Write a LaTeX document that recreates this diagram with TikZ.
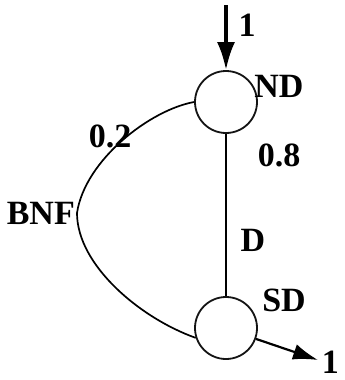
\documentclass[tikz,border=0pt]{standalone}
\usepackage{fontspec}
\setmainfont{Liberation Serif}
\usetikzlibrary{arrows.meta,positioning}
\definecolor{InkBlack}{RGB}{20,20,20}

\begin{document}
\begin{tikzpicture}[x=1pt,y=-1pt,>=Latex,
    state/.style={circle,draw=InkBlack,line width=1.8pt,minimum size=62pt,inner sep=0pt},
    lbl/.style={font=\fontsize{34}{36}\selectfont\bfseries,inner sep=0pt}]
      \useasboundingbox (0,0) rectangle (345,380);
      \node[state] (nd) at (226,102) {};
      \node[state] (sd) at (226,328) {};
      \coordinate (top) at (226,5);
      \coordinate (out) at (318,360);
      \coordinate (bend) at (77,213);
      \draw[line width=3.5pt,-{Latex[length=28pt,width=18pt]}] (top) -- (nd.north);
      \draw[line width=2.2pt] (nd.south) -- (sd.north);
      \draw[line width=1.7pt] (nd.180) .. controls (150,110) and (85,160) .. (bend)
        .. controls (77,265) and (140,318) .. (sd.198);
      \draw[line width=2.2pt,-{Latex[length=25pt,width=16pt]}] (sd.-20) -- (out);
      \node[lbl] at (247,25) {1};
      \node[lbl] at (279,86) {ND};
      \node[lbl] at (279,155) {0.8};
      \node[lbl] at (253,240) {D};
      \node[lbl] at (284,300) {SD};
      \node[lbl] at (110,136) {0.2};
      \node[lbl,left=2pt of bend] {BNF};
      \node[lbl,anchor=east] at (339,362) {1};
    \end{tikzpicture}
\end{document}
